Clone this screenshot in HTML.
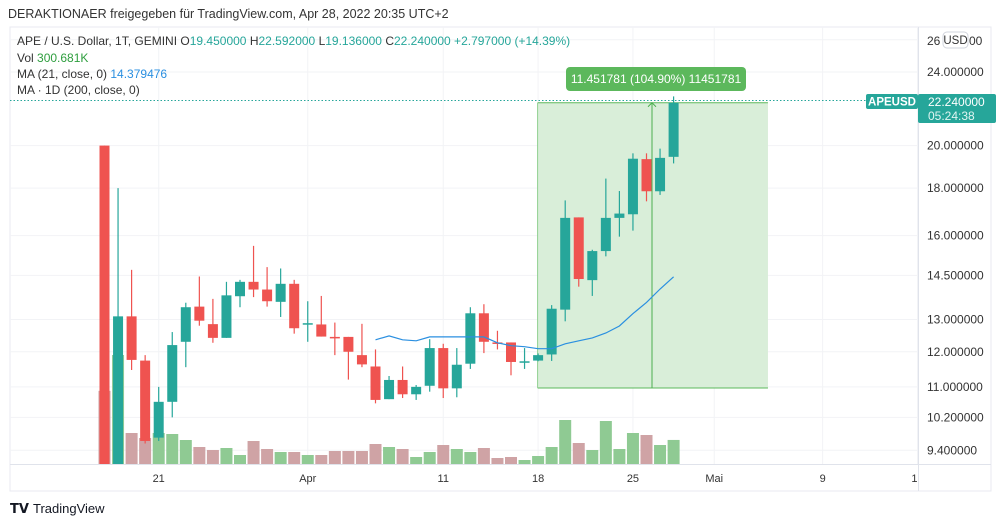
<!DOCTYPE html>
<html><head><meta charset="utf-8">
<style>
html,body{margin:0;padding:0;background:#fff;width:1000px;height:525px;overflow:hidden;font-family:"Liberation Sans","DejaVu Sans",sans-serif;}
svg text{font-family:"Liberation Sans","DejaVu Sans",sans-serif;}
</style></head>
<body>
<svg id="chart" width="1000" height="525" xmlns="http://www.w3.org/2000/svg">
  <defs>
    <clipPath id="paneclip"><rect x="10" y="27" width="908" height="437"/></clipPath>
    <clipPath id="timeclip"><rect x="10" y="464" width="908" height="27"/></clipPath>
  </defs>
  <text x="8" y="18" font-size="12.5" fill="#333">DERAKTIONAER freigegeben für TradingView.com, Apr 28, 2022 20:35 UTC+2</text>
  <rect x="10" y="27" width="981" height="464" fill="none" stroke="#e8eaf0"/>
  <g id="grid"></g>
  <g id="measure"></g>
  <g id="vols" clip-path="url(#paneclip)"></g>
  <g id="candles" clip-path="url(#paneclip)"></g>
  <path id="ma" fill="none" stroke="#2a8fe0" stroke-width="1.2"/>
  <line x1="10" x2="918" y1="100.5" y2="100.5" stroke="#26a69a" stroke-dasharray="1.5 2"/>
  <line x1="918.5" x2="918.5" y1="27" y2="491" stroke="#e0e3eb"/>
  <line x1="10" x2="991" y1="464.5" y2="464.5" stroke="#e0e3eb"/>
  <g id="yaxis"></g>
  <g id="xaxis" clip-path="url(#timeclip)"></g>
  <g font-size="12">
    <text x="17" y="45" fill="#333">APE / U.S. Dollar, 1T, GEMINI  <tspan fill="#333">O</tspan><tspan fill="#26a69a">19.450000</tspan>  <tspan>H</tspan><tspan fill="#26a69a">22.592000</tspan>  <tspan>L</tspan><tspan fill="#26a69a">19.136000</tspan>  <tspan>C</tspan><tspan fill="#26a69a">22.240000  +2.797000 (+14.39%)</tspan></text>
    <text x="17" y="62" fill="#333">Vol  <tspan fill="#2e9e3e">300.681K</tspan></text>
    <text x="17" y="78" fill="#333">MA (21, close, 0)  <tspan fill="#2a8fe0">14.379476</tspan></text>
    <text x="17" y="94" fill="#333">MA · 1D (200, close, 0)</text>
  </g>
  <g>
    <rect x="866" y="94" width="52" height="15" rx="2" fill="#26a69a"/>
    <text x="892" y="105.5" font-size="11.5" fill="#fff" text-anchor="middle" font-weight="bold">APEUSD</text>
  </g>
  <g>
    <rect x="918" y="94" width="78" height="29" rx="2" fill="#26a69a"/>
    <text x="928" y="106" font-size="12" fill="#fff">22.240000</text>
    <text x="928" y="120" font-size="12" fill="#e0f5f2">05:24:38</text>
  </g>
  <g>
    <rect x="943" y="32" width="25" height="16" rx="4" fill="#fff" stroke="#d1d4dc"/>
    <text x="955.5" y="44" font-size="11.5" fill="#333" text-anchor="middle">USD</text>
  </g>
  <g>
    <text x="10" y="513" font-size="13" font-weight="bold" fill="#131722">𝗧𝗩</text>
    <text x="33" y="513" font-size="13" fill="#131722">TradingView</text>
  </g>
</svg>
<script>
const NS='http://www.w3.org/2000/svg';
const opens =[20,9.07,13.1,11.74,9.7,10.6,12.3,13.42,12.85,12.42,13.77,14.27,14.0,13.58,14.2,12.86,12.84,12.45,12.45,11.9,11.57,10.67,11.19,10.8,11.03,12.11,10.96,11.65,13.2,12.28,12.28,11.7,11.74,11.92,13.32,16.74,14.33,15.4,16.72,16.87,19.34,17.86,19.45];
const highs =[20,18,14.7,11.9,11.0,12.6,13.55,14.46,13.68,14.27,14.34,15.6,14.8,14.75,14.34,13.6,13.78,12.9,12.45,12.86,12.07,11.3,11.57,11.05,12.38,12.24,12.11,13.4,13.5,12.64,12.28,12.11,11.95,13.47,17.46,16.74,15.45,18.43,17.87,19.62,19.62,19.85,22.592];
const lows  =[9.0,9.0,11.47,9.56,9.62,10.2,11.55,12.8,12.27,12.42,13.4,13.74,13.42,13.08,12.55,12.3,12.46,11.9,11.2,11.55,10.56,10.67,10.7,10.65,10.87,10.7,10.72,11.5,11.96,12.07,11.32,11.5,11.72,11.73,12.94,14.1,13.78,15.2,15.96,16.2,17.42,17.7,19.136];
const closes=[9.07,13.1,11.76,9.62,10.6,12.2,13.4,12.96,12.42,13.8,14.27,14.0,13.6,14.2,12.72,12.88,12.46,12.42,12.0,11.63,10.65,11.19,10.8,11.0,12.11,10.96,11.62,13.2,12.3,12.24,11.7,11.72,11.9,13.35,16.72,14.37,15.4,16.72,16.9,19.36,17.86,19.4,22.24];
const volumesK=[890,1320,384,324,384,372,300,216,180,204,120,288,192,156,156,120,120,168,168,168,252,216,192,96,156,240,192,156,204,84,96,60,108,216,540,264,180,528,192,384,360,240,300.681];
const maStart=20;
const ma21=[12.36,12.48,12.36,12.33,12.45,12.45,12.45,12.45,12.45,12.27,12.18,12.15,12.09,12.09,12.24,12.33,12.42,12.57,12.79,13.19,13.56,14.02,14.45];
const priceTicks=[24,20,18,16,14.5,13,12,11,10.2,9.4];
const timeLabels=['21','Apr','11','18','25','Mai','9','16'];
const timeIdx=[4,15,25,32,39,45,53,60]; // day index from Mar 17
const measureFrom=32, measureTo=49, measureLow=10.97, measureHigh=22.24;

function X(i){return 104.5+i*13.55;}
function Y(p){return 72+(Math.log(24)-Math.log(p))*403.6;}
function V(v){return 465-v/12;}
function el(tag,attrs,parent){const e=document.createElementNS(NS,tag);for(const k in attrs)e.setAttribute(k,attrs[k]);parent.appendChild(e);return e;}

const grid=document.getElementById('grid');
priceTicks.concat([26]).forEach(p=>{const l=el('line',{x1:10,x2:918,y1:Y(p),y2:Y(p),stroke:'#f2f3f6'},grid);

});
timeIdx.forEach(i=>{if(X(i)>918)return;const l=el('line',{x1:X(i),x2:X(i),y1:27,y2:464,stroke:'#f2f3f6'},grid);

});

const ya=document.getElementById('yaxis');
priceTicks.forEach(p=>{const t=el('text',{x:927,y:Y(p)+4,'font-size':12,fill:'#333'},ya);t.textContent=p.toFixed(6);

});
{const t=el('text',{x:927,y:45,'font-size':12,fill:'#333'},ya);t.textContent='26';


const t2=el('text',{x:969,y:45,'font-size':12,fill:'#333'},ya);t2.textContent='00';

}

const xa=document.getElementById('xaxis');
timeLabels.forEach((s,k)=>{const x=X(timeIdx[k]);const t=el('text',{x:x,y:482,'font-size':11,fill:'#333','text-anchor':'middle'},xa);t.textContent=s;

});

// measure
const m=document.getElementById('measure');
{const x0=X(measureFrom)-0.5,x1=X(measureTo)-0.5,y0=Y(measureHigh),y1=Y(measureLow);
const r=el('rect',{x:x0,y:y0,width:x1-x0,height:y1-y0,fill:'#d9eed9',stroke:'none'},m);


el('line',{x1:x0,x2:x1,y1:y0,y2:y0,stroke:'#5cb85c'},m);
el('line',{x1:x0,x2:x1,y1:y1,y2:y1,stroke:'#5cb85c'},m);
el('line',{x1:x0,x2:x0,y1:y0,y2:y1,stroke:'#8fcf8f'},m);
const xm=652;
el('line',{x1:xm,x2:xm,y1:y1,y2:y0,stroke:'#4caf50'},m);
el('path',{d:`M${xm-4},${y0+4} L${xm},${y0} L${xm+4},${y0+4}`,fill:'none',stroke:'#4caf50'},m);
const b=el('rect',{x:566,y:67,width:180,height:24,rx:4,fill:'#5cb85c'},m);


const t=el('text',{x:656,y:83,'font-size':12,fill:'#fff','text-anchor':'middle'},m);
t.textContent='11.451781 (104.90%) 11451781';

}

const vg=document.getElementById('vols'), cg=document.getElementById('candles');
closes.forEach((c,i)=>{
  const up=c>=opens[i];
  const x=X(i);
  const v=el('rect',{x:x-6,y:V(volumesK[i]),width:12,height:465-V(volumesK[i]),fill:up?'#8fca93':'#cfa3a5'},vg);
  
  
  const col=up?'#26a69a':'#ef5350';
  const g=el('g',{},cg);
  
  
  el('line',{x1:x,x2:x,y1:Y(highs[i]),y2:Y(lows[i]),stroke:col,'stroke-width':1.2},g);
  const top=Math.min(Y(opens[i]),Y(c)),bot=Math.max(Y(opens[i]),Y(c));
  el('rect',{x:x-5,y:top,width:10,height:Math.max(1.5,bot-top),fill:col},g);
});
document.getElementById('ma').setAttribute('d',ma21.map((v,k)=>(k?'L':'M')+X(maStart+k).toFixed(1)+','+Y(v).toFixed(1)).join(' '));
</script>
</body></html>
